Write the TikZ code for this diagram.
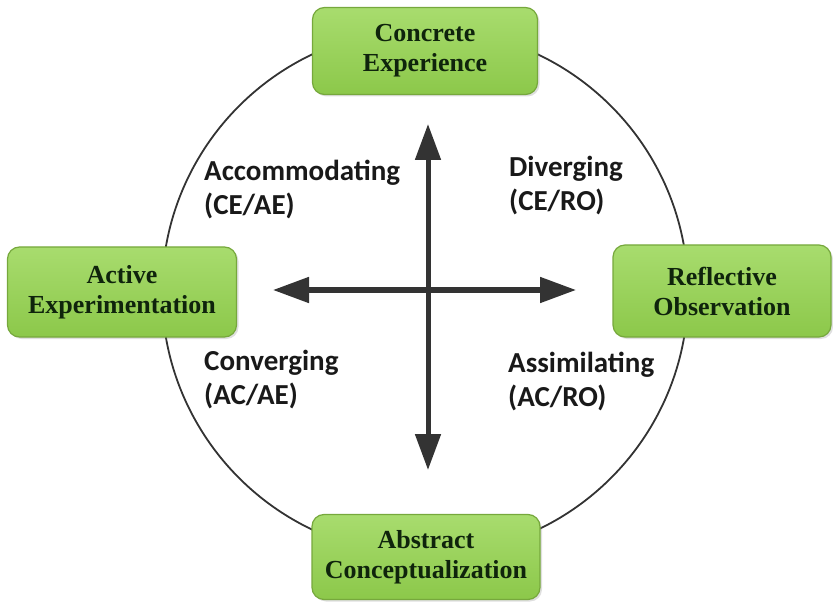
\documentclass[tikz,border=0pt]{standalone}
\usepackage{fontspec}
\setmainfont{Liberation Serif}
\newfontfamily\labelfont{Carlito}
\usetikzlibrary{arrows.meta,shadows}
\definecolor{boxtop}{HTML}{A8DC6E}
\definecolor{boxbot}{HTML}{8CC84A}
\definecolor{boxline}{HTML}{76A83C}
\definecolor{boxtext}{HTML}{0F240C}
\definecolor{axis}{HTML}{333333}
\tikzset{
  x=1pt, y=1pt,
  stage/.style={rounded corners=12pt, draw=boxline, line width=1.2pt,
    top color=boxtop, bottom color=boxbot, align=center,
    font=\fontsize{26}{30}\selectfont\bfseries, text=boxtext,
    inner sep=0pt, drop shadow={shadow xshift=2pt, shadow yshift=-2pt, opacity=0.25}},
  quad/.style={align=left, anchor=north west, inner sep=0pt,
    font=\labelfont\fontsize{29}{34}\selectfont\bfseries, text=black!90},
  axisarrow/.style={draw=axis, line width=5pt,
    -{Triangle[length=36pt,width=25pt]}},
}
\begin{document}
\begin{tikzpicture}
\useasboundingbox (0,0) rectangle (833,-604);
% learning cycle
\draw[axis, line width=1.8pt] (425,-292) circle (263);
% the four stages
\node[stage, minimum width=225pt, minimum height=87pt] (ce) at (425,-51) {Concrete\\Experience};
\node[stage, minimum width=229pt, minimum height=90pt] (ae) at (122,-292) {Active\\Experimentation};
\node[stage, minimum width=218pt, minimum height=92pt] (ro) at (722,-291) {Reflective\\Observation};
\node[stage, minimum width=228pt, minimum height=85pt] (ac) at (426,-557) {Abstract\\Conceptualization};
% axes
\coordinate (centre) at (428,-290);
\coordinate (up) at (428,-124);
\coordinate (down) at (428,-470);
\coordinate (left) at (273,-290);
\coordinate (right) at (576,-290);
\draw[axisarrow] (centre) -- (up);
\draw[axisarrow] (centre) -- (down);
\draw[axisarrow] (centre) -- (left);
\draw[axisarrow] (centre) -- (right);
% learning styles
\node[quad] (acc) at (204,-160) {Accommodating\\(CE/AE)};
\node[quad] (div) at (509,-156) {Diverging\\(CE/RO)};
\node[quad] (con) at (204,-350) {Converging\\(AC/AE)};
\node[quad] (ass) at (508,-352) {Assimilating\\(AC/RO)};
\end{tikzpicture}
\end{document}
